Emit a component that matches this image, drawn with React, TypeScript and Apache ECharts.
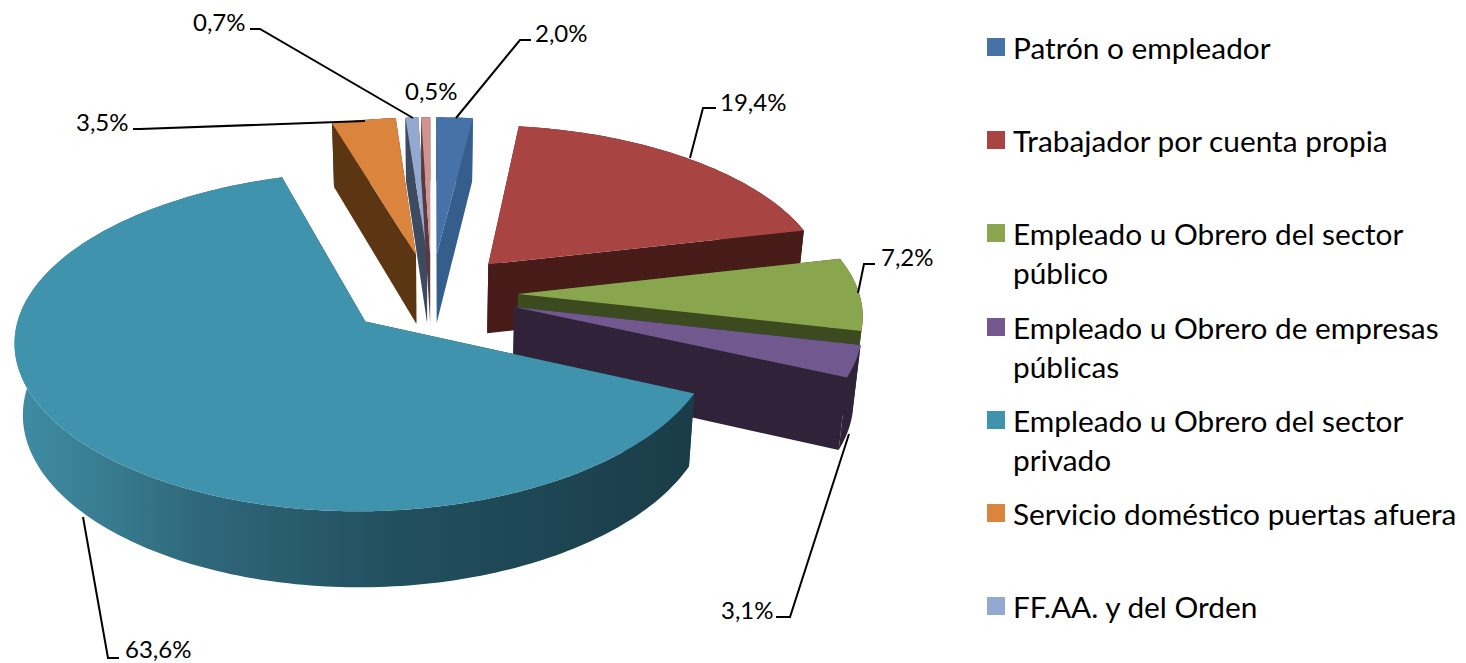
import React, { useEffect, useRef } from "react";
import * as echarts from "echarts";

const categories = [
  "Patrón o empleador",
  "Trabajador por cuenta propia",
  "Empleado u Obrero del sector público",
  "Empleado u Obrero de empresas públicas",
  "Empleado u Obrero del sector privado",
  "Servicio doméstico puertas afuera",
  "FF.AA. y del Orden",
  "Otros",
];
const shares = [2.0, 19.4, 7.2, 3.1, 63.6, 3.5, 0.7, 0.5];
const topColors = ["#4672A8", "#A84543", "#89A54E", "#71588F", "#4093AD", "#DB843D", "#93A9CF", "#D19392"];
const sideColors = ["#365E8D", "#471B18", "#3C4A20", "#2F2239", "#1A3C48", "#5C3613", "#3D4A60", "#5A3A3E"];
const legendLines: Record<string, string> = {
  "Empleado u Obrero del sector público": "\nEmpleado u Obrero del sector\npúblico",
  "Empleado u Obrero de empresas públicas": "\nEmpleado u Obrero de empresas\npúblicas",
  "Empleado u Obrero del sector privado": "\nEmpleado u Obrero del sector\nprivado",
};
const legendCenters = [47, 140, 233, 327, 420, 513, 606];
const labelAnchors = [
  [535, 32],
  [720, 101.5],
  [881, 256],
  [721, 609],
  [125, 648],
  [76, 121],
  [193, 21],
  [405, 90],
];
const leaderLines = [
  [[456, 118], [520, 40], [531, 40]],
  [[690, 158], [703, 108], [716, 108]],
  [[858, 293], [864, 264], [875, 264]],
  [[849, 434], [790, 617], [776, 617]],
  [[83, 517], [108, 658], [119, 658]],
  [[365, 121], [140, 129], [133, 129]],
  [[413, 118], [260, 29], [250, 29]],
];

const FONT = "Lato";
const CX = 431.5;
const CY = 294;
const RADIUS = 343;
const EXPLODE = 87;
const total = shares.reduce((a, b) => a + b, 0);

function project(u: number, v: number, bottom: boolean): number[] {
  const s = 0.995 + 0.00033 * v;
  let x = CX + u * s;
  let y = CY + (0.47 * v) / (1 - v / 3000);
  if (bottom) {
    x = CX + (x - CX) * 0.98;
    y += 70 + 0.015 * v;
  }
  return [x, y];
}

function renderSlice(index: number, value: number) {
  let before = 0;
  for (let i = 0; i < index; i++) before += shares[i];
  const a0 = (before / total) * Math.PI * 2;
  const a1 = a0 + (value / total) * Math.PI * 2;
  const mid = (a0 + a1) / 2;
  const au = EXPLODE * Math.sin(mid);
  const av = -EXPLODE * Math.cos(mid);
  const rim = (a: number) => [au + RADIUS * Math.sin(a), av - RADIUS * Math.cos(a)];
  const steps = Math.max(4, Math.ceil((a1 - a0) / 0.02));
  const angles: number[] = [];
  for (let i = 0; i <= steps; i++) angles.push(a0 + ((a1 - a0) * i) / steps);
  const topArc = angles.map((a) => {
    const p = rim(a);
    return project(p[0], p[1], false);
  });
  const bottomArc = angles.map((a) => {
    const p = rim(a);
    return project(p[0], p[1], true);
  });
  const apexTop = project(au, av, false);
  const apexBottom = project(au, av, true);
  const side = sideColors[index];
  const wallFill: any =
    index === 4
      ? new echarts.graphic.LinearGradient(
          20, 0, 695, 0,
          [
            { offset: 0, color: "#3F8CA3" },
            { offset: 0.12, color: "#397D91" },
            { offset: 0.27, color: "#2F677A" },
            { offset: 0.56, color: "#224F5E" },
            { offset: 1, color: "#1A3C48" },
          ],
          true as any
        )
      : side;
  const poly = (points: number[][], fill: any) => ({
    type: "polygon",
    silent: true,
    shape: { points },
    style: { fill, stroke: "none" },
  });
  return {
    type: "group",
    children: [
      poly([apexTop, topArc[0], bottomArc[0], apexBottom], side),
      poly([apexTop, topArc[steps], bottomArc[steps], apexBottom], side),
      poly([...topArc, ...bottomArc.slice().reverse()], wallFill),
      poly([apexTop, ...topArc], topColors[index]),
    ],
  };
}

export default function App() {
  const ref = useRef<HTMLDivElement>(null);
  useEffect(() => {
    const chart = echarts.init(ref.current!, null, { renderer: "svg" });
    const lineHeight = 39;
    const legendFont = 29.8;
    chart.setOption({
      animation: false,
      backgroundColor: "#ffffff",
      legend: legendCenters.map((c, i) => {
        const wrapped = !!legendLines[categories[i]];
        return {
          data: [categories[i]],
          left: 987,
          top: wrapped ? c - lineHeight * 1.5 : c - lineHeight / 2,
          orient: "vertical",
          icon: "rect",
          itemWidth: 18,
          itemHeight: 18,
          padding: 0,
          selectedMode: false,
          formatter: (n: string) => legendLines[n] || n,
          textStyle: {
            fontFamily: FONT,
            fontSize: legendFont,
            lineHeight,
            color: "#000000",
            padding: [0, 0, 0, 3],
          },
        };
      }),
      graphic: {
        elements: [
          ...leaderLines.map((pts) => ({
            type: "polyline",
            z: 100,
            silent: true,
            shape: { points: pts },
            style: { stroke: "#000000", lineWidth: 2, fill: "none" },
          })),
          ...shares.map((v, i) => ({
            type: "text",
            z: 100,
            silent: true,
            x: labelAnchors[i][0],
            y: labelAnchors[i][1],
            style: {
              text: v.toFixed(1).replace(".", ",") + "%",
              font: `24px ${FONT}`,
              fill: "#000000",
              verticalAlign: "middle",
              align: "left",
            },
          })),
        ],
      },
      series: categories.map((name, i) => ({
        type: "custom",
        name,
        coordinateSystem: "none",
        itemStyle: { color: topColors[i] },
        data: [[shares[i]]],
        renderItem: (_p: any, api: any) => renderSlice(i, api.value(0)),
      })),
    });
    return () => chart.dispose();
  }, []);
  return <div ref={ref} style={{ position: "fixed", left: 0, top: 0, width: 1466, height: 663 }} />;
}
